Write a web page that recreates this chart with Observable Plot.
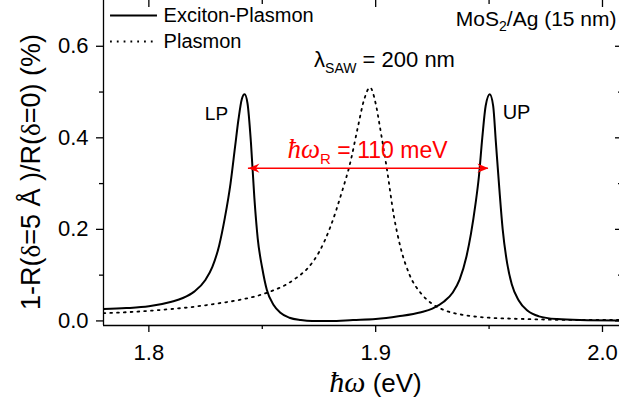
<!DOCTYPE html>
<html><head><meta charset="utf-8">
<script src="https://cdn.jsdelivr.net/npm/d3@7"></script>
<script src="https://cdn.jsdelivr.net/npm/@observablehq/plot@0.6"></script>
<style>
html,body{margin:0;padding:0;background:#fff;overflow:hidden;}
</style>
</head><body><div id="chart"></div>
<script>
// Exciton-Plasmon spectrum (eV, %)
const epEnergy = [1.78,1.79,1.80,1.81,1.815,1.82,1.825,1.828,1.831,1.8335,1.836,1.838,1.8395,1.841,1.8422,1.8435,1.845,1.8465,1.848,1.850,1.852,1.855,1.858,1.862,1.867,1.872,1.88,1.89,1.90,1.91,1.92,1.925,1.93,1.934,1.937,1.940,1.942,1.944,1.9455,1.947,1.9485,1.9503,1.9518,1.953,1.9545,1.956,1.958,1.960,1.963,1.967,1.972,1.98,1.99,2.01];
const epValue  = [0.026,0.028,0.032,0.042,0.050,0.064,0.090,0.118,0.165,0.225,0.300,0.380,0.440,0.485,0.495,0.475,0.390,0.270,0.180,0.115,0.068,0.035,0.018,0.007,0.002,0.000,0.000,0.002,0.004,0.010,0.019,0.027,0.042,0.062,0.090,0.140,0.190,0.255,0.315,0.400,0.470,0.495,0.470,0.390,0.290,0.200,0.125,0.080,0.045,0.022,0.010,0.004,0.002,0.001];
// Plasmon-only spectrum
const plEnergy = [1.78,1.79,1.80,1.81,1.82,1.83,1.84,1.85,1.855,1.86,1.865,1.87,1.875,1.88,1.885,1.889,1.892,1.895,1.8975,1.900,1.902,1.905,1.908,1.911,1.915,1.920,1.925,1.930,1.940,1.950,1.960,1.975,1.99,2.01];
const plValue  = [0.017,0.019,0.022,0.026,0.031,0.038,0.046,0.058,0.067,0.078,0.094,0.115,0.150,0.205,0.280,0.350,0.420,0.485,0.510,0.475,0.420,0.330,0.230,0.160,0.100,0.060,0.037,0.024,0.012,0.007,0.005,0.003,0.002,0.002];

const seriesNames = ["Exciton-Plasmon", "Plasmon"];
const xTicks = [1.8, 1.9, 2.0];
const xMinorTicks = [1.85, 1.95];
const yTicks = [0.0, 0.2, 0.4, 0.6];
const yMinorTicks = [0.1, 0.3, 0.5];
const rabiFrom = [1.8439];
const rabiTo = [1.9497];
const rabiLevel = [0.3336];

const ep = epEnergy.map((x, i) => ({x, y: epValue[i]}));
const pl = plEnergy.map((x, i) => ({x, y: plValue[i]}));
const rabi = rabiFrom.map((f, i) => ({x1: f, x2: rabiTo[i], y: rabiLevel[i]}));

const RED = "#ff0000";
const DOTS = "1.8 5";
const arrowHead = {
  draw(ctx) {
    ctx.moveTo(0, 0);
    ctx.lineTo(-11, -4.6);
    ctx.lineTo(-7.5, 0);
    ctx.lineTo(-11, 4.6);
    ctx.closePath();
  }
};

const plot = Plot.plot({
  width: 619, height: 412,
  marginLeft: 103, marginRight: 0, marginTop: 0, marginBottom: 87,
  x: {domain: [1.78, 2.0075]},
  y: {domain: [-0.01, 0.7]},
  style: {fontFamily: "'Liberation Sans', Arial, sans-serif", fontSize: "22px", color: "#000", background: "#fff"},
  marks: [
    // axes
    Plot.axisX(xTicks, {tickSize: 7, tickPadding: 12, tickFormat: d3.format(".1f"), label: null, strokeWidth: 1.3, fontSize: 22}),
    Plot.axisX(xMinorTicks, {tickSize: 4, tickFormat: () => "", label: null, strokeWidth: 1.3}),
    Plot.axisY(yTicks, {tickSize: 7, tickPadding: 8, tickFormat: d3.format(".1f"), label: null, strokeWidth: 1.3, fontSize: 22}),
    Plot.axisY(yMinorTicks, {tickSize: 4, tickFormat: () => "", label: null, strokeWidth: 1.3}),
    Plot.ruleX([1.78], {strokeWidth: 1.3}),
    Plot.ruleY([-0.01], {strokeWidth: 1.3}),
    Plot.tickX(xTicks, {x: d => d, insetBottom: 325 - 7, strokeWidth: 1.3}),
    Plot.tickX(xMinorTicks, {x: d => d, insetBottom: 325 - 4, strokeWidth: 1.3}),
    Plot.tickY(yTicks, {y: d => d, insetLeft: 516 - 4, strokeWidth: 1.3}),
    Plot.tickY(yMinorTicks, {y: d => d, insetLeft: 516 - 1, strokeWidth: 1.3}),
    // data
    Plot.line(pl, {x: "x", y: "y", stroke: "#000", strokeWidth: 1.8, strokeDasharray: DOTS, curve: "monotone-x", clip: true}),
    Plot.line(ep, {x: "x", y: "y", stroke: "#000", strokeWidth: 2, curve: "monotone-x", clip: true}),
    // legend
    Plot.ruleY([0.6672], {x1: 1.7831, x2: 1.8038, stroke: "#000", strokeWidth: 2}),
    Plot.ruleY([0.6104], {x1: 1.7831, x2: 1.8038, stroke: "#000", strokeWidth: 1.8, strokeDasharray: DOTS}),
    Plot.text([seriesNames[0]], {x: 1.8065, y: 0.6672, text: d => d, textAnchor: "start", fontSize: 20}),
    Plot.text([seriesNames[1]], {x: 1.8065, y: 0.6104, text: d => d, textAnchor: "start", fontSize: 20}),
    // annotations
    Plot.text(["MoS2/Ag (15 nm)"], {x: 2.0062, y: 0.6596, text: d => d, textAnchor: "end", fontSize: 21}),
    Plot.text(["λSAW = 200 nm"], {x: 1.9039, y: 0.571, text: d => d, fontSize: 22}),
    Plot.text(["LP"], {x: 1.8298, y: 0.453, text: d => d, fontSize: 19}),
    Plot.text(["UP"], {x: 1.9621, y: 0.4553, text: d => d, fontSize: 20}),
    Plot.text(["ħωR = 110 meV"], {x: 1.8964, y: 0.3723, text: d => d, fontSize: 23, fill: RED}),
    Plot.ruleY(rabi, {x1: "x1", x2: "x2", y: "y", stroke: RED, strokeWidth: 1.5}),
    Plot.dot(rabi, {x: "x2", y: "y", symbol: arrowHead, fill: RED, stroke: null, r: 4}),
    Plot.dot(rabi, {x: "x1", y: "y", symbol: arrowHead, fill: RED, stroke: null, r: 4, rotate: 180}),
    // axis titles
    Plot.text(["ħω (eV)"], {frameAnchor: "bottom", dx: 14, dy: 58, lineAnchor: "middle", textAnchor: "middle", text: d => d, fontSize: 26}),
    Plot.text(["1-R(δ=5 Å )/R(δ=0) (%)"], {frameAnchor: "left", dx: -72, dy: 9, rotate: -90, textAnchor: "middle", lineAnchor: "middle", text: d => d, fontSize: 27})
  ]
});

// rich text (italic ħω, subscripts)
const SERIF = "Liberation Serif, Times New Roman, serif";
const rich = {
  "MoS2/Ag (15 nm)": 'MoS<tspan dy="5" font-size="14px">2</tspan><tspan dy="-5">/Ag (15 nm)</tspan>',
  "λSAW = 200 nm": 'λ<tspan dy="6" font-size="14px">SAW</tspan><tspan dy="-6"> = 200 nm</tspan>',
  "ħωR = 110 meV": `<tspan font-family="${SERIF}" font-style="italic" font-size="27px">ħω</tspan><tspan dy="6" font-size="15px">R</tspan><tspan dy="-6"> = 110 meV</tspan>`,
  "ħω (eV)": `<tspan font-family="${SERIF}" font-style="italic" font-size="30px">ħω</tspan> (eV)`,
  "1-R(δ=5 Å )/R(δ=0) (%)": `1-R(<tspan font-family="${SERIF}">δ</tspan>=5 Å )/R(<tspan font-family="${SERIF}">δ</tspan>=0) (%)`
};
d3.select(plot).selectAll("text").each(function() {
  const t = this.textContent;
  if (rich[t] !== undefined) this.innerHTML = rich[t];
});
document.getElementById("chart").appendChild(plot);
</script>
</body></html>
